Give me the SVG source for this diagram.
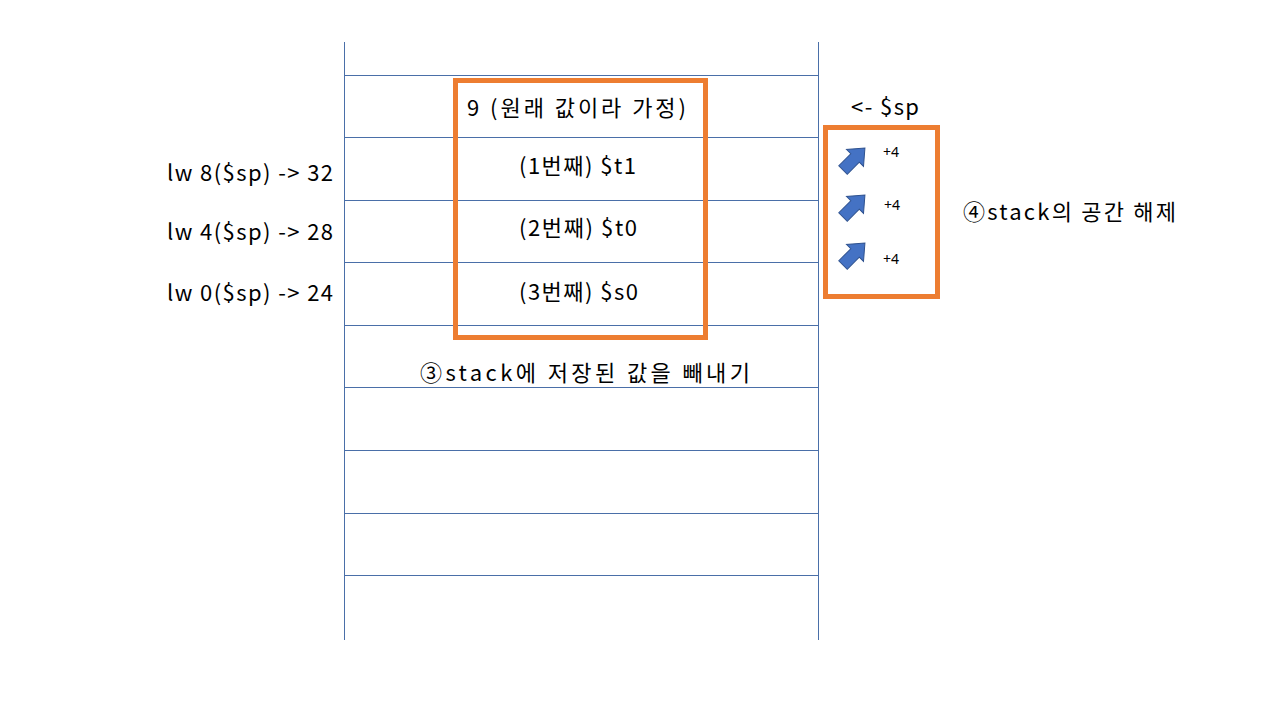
<svg xmlns="http://www.w3.org/2000/svg" width="1280" height="720" viewBox="0 0 1280 720">
<style>
.ln{stroke:#4A6FA8;stroke-width:1;fill:none}
.ob{fill:none;stroke:#ED7D31;stroke-width:5}
.t{font-family:"Noto Sans CJK KR","Noto Sans",sans-serif;font-size:22px;fill:#000}
.s{font-family:"Noto Sans","Noto Sans CJK KR",sans-serif;font-size:14px;fill:#000}
.ar{fill:#4472C4;stroke:#2F528F;stroke-width:1}
</style>
<defs>
<polygon id="arr" points="0,-6 17,-6 17,-12 31,0 17,12 17,6 0,6"/>
</defs>
<rect width="1280" height="720" fill="#fff"/>
<g id="stack">
<line class="ln" x1="344.5" y1="42" x2="344.5" y2="640"/>
<line class="ln" x1="818.5" y1="42" x2="818.5" y2="640"/>
<line class="ln" x1="344" y1="75.5" x2="818" y2="75.5"/>
<line class="ln" x1="344" y1="137.5" x2="818" y2="137.5"/>
<line class="ln" x1="344" y1="200.5" x2="818" y2="200.5"/>
<line class="ln" x1="344" y1="262.5" x2="818" y2="262.5"/>
<line class="ln" x1="344" y1="325.5" x2="818" y2="325.5"/>
<line class="ln" x1="344" y1="387.5" x2="818" y2="387.5"/>
<line class="ln" x1="344" y1="450.5" x2="818" y2="450.5"/>
<line class="ln" x1="344" y1="513.5" x2="818" y2="513.5"/>
<line class="ln" x1="344" y1="575.5" x2="818" y2="575.5"/>
</g>
<g id="cells">
<text class="t" x="467" y="116" textLength="219" lengthAdjust="spacing">9 (원래 값이라 가정)</text>
<text class="t" x="519" y="174" textLength="117" lengthAdjust="spacing">(1번째) $t1</text>
<text class="t" x="519" y="236" textLength="118" lengthAdjust="spacing">(2번째) $t0</text>
<text class="t" x="519" y="300" textLength="119" lengthAdjust="spacing">(3번째) $s0</text>
</g>
<g id="box3">
<rect class="ob" x="455.5" y="80.5" width="250" height="257"/>
<text class="t" x="420" y="381" textLength="330" lengthAdjust="spacing">③stack에 저장된 값을 빼내기</text>
</g>
<g id="labels">
<text class="t" x="167" y="181" textLength="166" lengthAdjust="spacing">lw 8($sp)  -&gt; 32</text>
<text class="t" x="167" y="240" textLength="166" lengthAdjust="spacing">lw 4($sp)  -&gt; 28</text>
<text class="t" x="167" y="301" textLength="166" lengthAdjust="spacing">lw 0($sp)  -&gt; 24</text>
</g>
<g id="sp">
<text class="t" x="851" y="115" textLength="68" lengthAdjust="spacing">&lt;- $sp</text>
</g>
<g id="box4">
<rect class="ob" x="825.5" y="127.5" width="112" height="169"/>
<use href="#arr" class="ar" transform="translate(843,170) rotate(-45)"/>
<use href="#arr" class="ar" transform="translate(843,217) rotate(-45)"/>
<use href="#arr" class="ar" transform="translate(843,265) rotate(-45)"/>
<text class="s" x="883" y="157">+4</text>
<text class="s" x="884" y="210">+4</text>
<text class="s" x="883" y="264">+4</text>
<text class="t" x="963" y="220" textLength="213" lengthAdjust="spacing">④stack의 공간 해제</text>
</g>
</svg>
